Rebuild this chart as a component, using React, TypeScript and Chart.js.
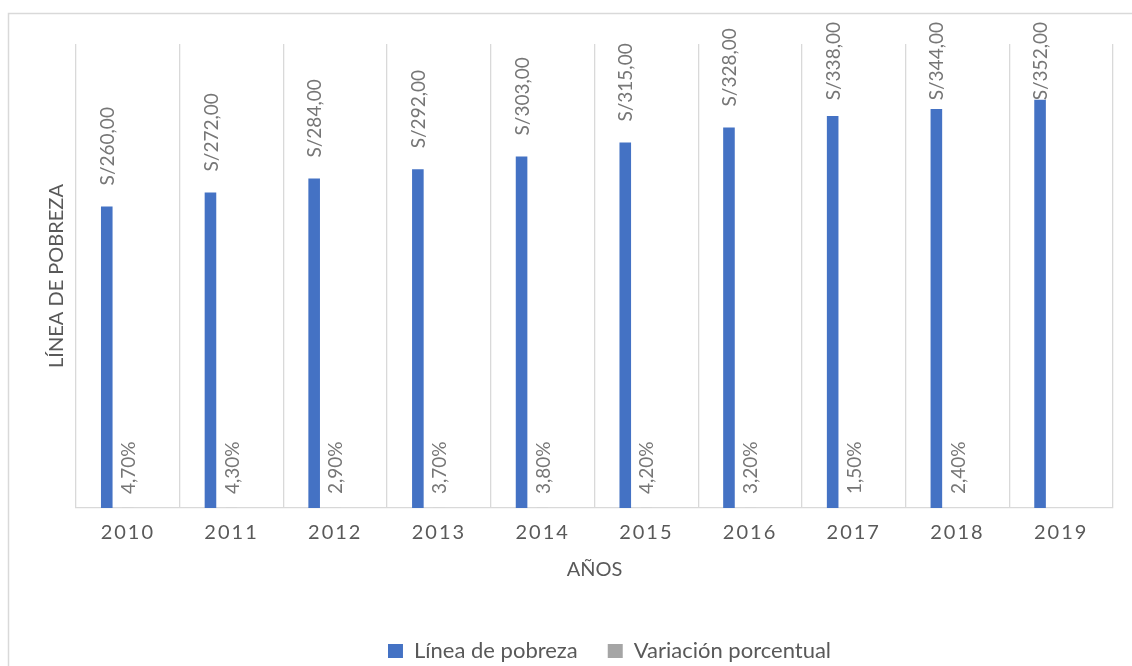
import React, { useEffect, useRef } from 'react';
import { Chart, registerables } from 'chart.js';

Chart.register(...registerables);

const years = ['2010', '2011', '2012', '2013', '2014', '2015', '2016', '2017', '2018', '2019'];
const povertyLine = [260, 272, 284, 292, 303, 315, 328, 338, 344, 352];
const pctChange: (number | null)[] = [0.047, 0.043, 0.029, 0.037, 0.038, 0.042, 0.032, 0.015, 0.024, null];
const spacer: (number | null)[] = [null, null, null, null, null, null, null, null, null, null];
const seriesNames = ['Línea de pobreza', 'Variación porcentual'];
const yTitle = 'LÍNEA DE POBREZA';
const xTitle = 'AÑOS';

const CW = 1219;
const CH = 672;
const PLOT_RIGHT = 1113;

const fmtMoney = (v: number) => 'S/' + v.toFixed(2).replace('.', ',');
const fmtPct = (v: number) => (v * 100).toFixed(2).replace('.', ',') + '%';

const framePlugin = {
  id: 'frame',
  beforeDraw(chart: any) {
    const ctx = chart.ctx;
    ctx.save();
    ctx.fillStyle = '#ffffff';
    ctx.fillRect(0, 0, chart.width, chart.height);
    ctx.strokeStyle = '#D9D9D9';
    ctx.lineWidth = 1.5;
    ctx.beginPath();
    ctx.moveTo(8.5, chart.height + 5);
    ctx.lineTo(8.5, 13.5);
    ctx.lineTo(chart.width + 5, 13.5);
    ctx.stroke();
    ctx.restore();
  },
};

const labelPlugin = {
  id: 'valueLabels',
  afterDatasetsDraw(chart: any) {
    const ctx = chart.ctx;
    ctx.save();
    ctx.font = '19px Lato';
    ctx.fillStyle = '#767676';
    ctx.textBaseline = 'middle';
    ctx.textAlign = 'left';
    const m0 = chart.getDatasetMeta(0);
    m0.data.forEach((bar: any, i: number) => {
      const v = povertyLine[i];
      const txt = fmtMoney(v);
      const w = ctx.measureText(txt).width;
      const yStart = Math.max(bar.y - 21, 22 + w);
      ctx.save();
      ctx.translate(bar.x + 1, yStart);
      ctx.rotate(-Math.PI / 2);
      ctx.fillText(txt, 0, 0);
      ctx.restore();
    });
    const m1 = chart.getDatasetMeta(1);
    const base = chart.scales.y.getPixelForValue(0);
    m1.data.forEach((bar: any, i: number) => {
      const v = pctChange[i];
      if (v == null) return;
      const txt = fmtPct(v);
      ctx.save();
      ctx.translate(bar.x + 1, base - 14);
      ctx.rotate(-Math.PI / 2);
      ctx.fillText(txt, 0, 0);
      ctx.restore();
    });
    ctx.restore();
    (ctx as any).letterSpacing = '2px';
  },
  afterDraw(chart: any) {
    (chart.ctx as any).letterSpacing = '0px';
  },
};

export default function App() {
  const ref = useRef<HTMLCanvasElement | null>(null);
  useEffect(() => {
    if (!ref.current) return;
    Chart.defaults.font.family = 'Lato';
    const common = { categoryPercentage: 0.61, barPercentage: 0.55, borderWidth: 0 };
    const chart = new Chart(ref.current, {
      type: 'bar',
      data: {
        labels: years,
        datasets: [
          { label: seriesNames[0], data: povertyLine, backgroundColor: '#4472C4', ...common },
          { label: seriesNames[1], data: pctChange, backgroundColor: '#A5A5A5', ...common },
          { label: '', data: spacer, backgroundColor: 'rgba(0,0,0,0)', ...common },
        ],
      },
      options: {
        responsive: false,
        animation: false,
        layout: { padding: { top: 44, left: 0, right: 0, bottom: 0 } },
        plugins: {
          legend: {
            position: 'bottom',
            labels: {
              boxWidth: 15,
              boxHeight: 14,
              padding: 30,
              color: '#595959',
              font: { size: 22 },
              filter: (it: any) => it.datasetIndex < 2,
            },
          },
          tooltip: { enabled: false },
        },
        scales: {
          x: {
            grid: { color: '#D9D9D9', lineWidth: 1.3, drawTicks: false, offset: true },
            border: { color: '#D9D9D9', width: 1.3 },
            ticks: { color: '#595959', font: { size: 20 }, padding: 13, z: 1, maxRotation: 0 },
            title: { display: true, text: xTitle, color: '#595959', font: { size: 20, weight: 'normal' }, padding: { top: 0, bottom: 28 } },
            afterFit: (s: any) => { s.height = 102; },
          },
          y: {
            min: 0,
            max: 400,
            ticks: { display: false },
            grid: { display: false },
            border: { display: false },
            title: { display: true, text: yTitle, color: '#595959', font: { size: 20, weight: 'normal' }, padding: { top: 45, bottom: 0 } },
            afterFit: (s: any) => { s.width = 76; },
          },
          y2: {
            type: 'linear',
            position: 'right',
            ticks: { display: false },
            grid: { display: false },
            border: { display: false },
            afterFit: (s: any) => { s.width = CW - PLOT_RIGHT; },
          },
        },
      } as any,
      plugins: [framePlugin, labelPlugin],
    });
    return () => chart.destroy();
  }, []);
  return (
    <div style={{ position: 'fixed', left: 0, top: 0, width: 1132, height: 666, overflow: 'hidden', background: '#fff' }}>
      <canvas ref={ref} width={CW} height={CH} style={{ width: CW, height: CH, display: 'block' }} />
    </div>
  );
}
